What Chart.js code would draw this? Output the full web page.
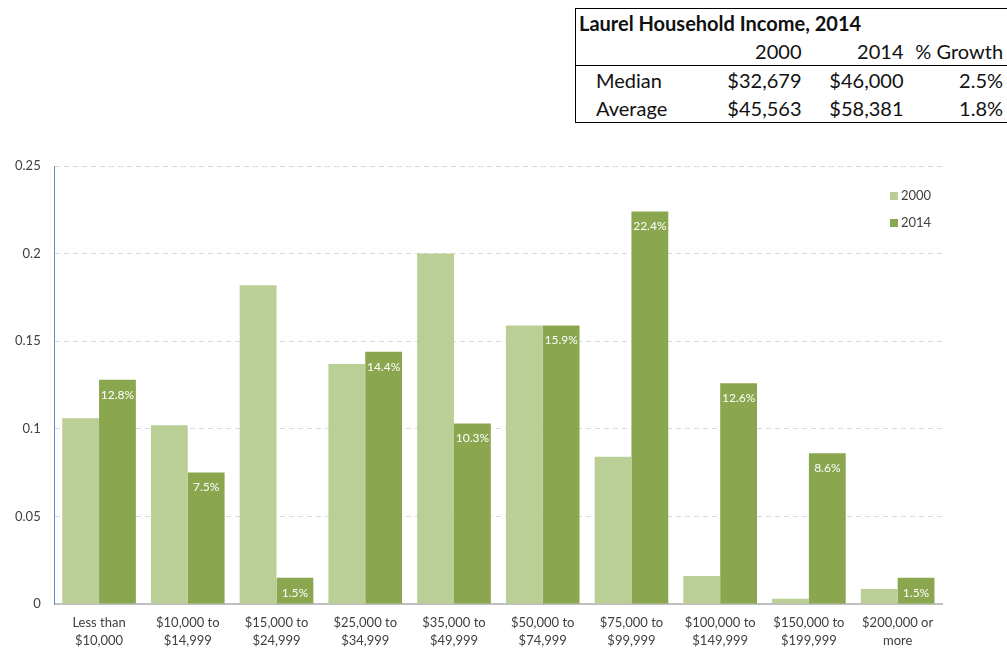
<!DOCTYPE html>
<html>
<head>
<meta charset="utf-8">
<script src="https://cdn.jsdelivr.net/npm/chart.js@4"></script>
<style>
    html, body { margin: 0; padding: 0; background: #fff; }
    body { width: 1007px; height: 649px; position: relative; overflow: hidden; font-family: Lato, "Open Sans", sans-serif; }
    #grafico { position: absolute; left: 0; top: 0; }
    .tabela-renda {
        position: absolute; left: 575px; top: 8px; width: 442px;
        table-layout: fixed; border-collapse: collapse; border: 1.5px solid #000; color: #111;
        font-size: 20px;
    }
    .tabela-renda td { padding: 0 4px 0 0; height: 28px; text-align: right; white-space: nowrap; overflow: visible; }
    .tabela-renda .titulo td { text-align: left; font-weight: bold; padding-left: 3px; }
    .tabela-renda .cabecalho td { border-bottom: 1.5px solid #000; }
    .tabela-renda td.rotulo { text-align: left; padding-left: 20px; }
    .tabela-renda td.ultima { padding-right: 14px; }
</style>
</head>
<body>
<table class="tabela-renda">
    <colgroup><col style="width:122px"><col style="width:108px"><col style="width:102px"><col style="width:110px"></colgroup>
    <tr class="titulo"><td colspan="4">Laurel Household Income, 2014</td></tr>
    <tr class="cabecalho"><td></td><td>2000</td><td>2014</td><td class="ultima">% Growth</td></tr>
    <tr><td class="rotulo">Median</td><td>$32,679</td><td>$46,000</td><td class="ultima">2.5%</td></tr>
    <tr><td class="rotulo">Average</td><td>$45,563</td><td>$58,381</td><td class="ultima">1.8%</td></tr>
</table>
<canvas id="grafico" width="1007" height="649"></canvas>
<script>
const faixas = [
    ["Less than", "$10,000"],
    ["$10,000 to", "$14,999"],
    ["$15,000 to", "$24,999"],
    ["$25,000 to", "$34,999"],
    ["$35,000 to", "$49,999"],
    ["$50,000 to", "$74,999"],
    ["$75,000 to", "$99,999"],
    ["$100,000 to", "$149,999"],
    ["$150,000 to", "$199,999"],
    ["$200,000 or", "more"]
];
const valores2000 = [0.106, 0.102, 0.182, 0.137, 0.200, 0.159, 0.084, 0.016, 0.003, 0.0085];
const valores2014 = [0.128, 0.075, 0.015, 0.144, 0.103, 0.159, 0.224, 0.126, 0.086, 0.015];
const ticksY = [0, 0.05, 0.1, 0.15, 0.2, 0.25];

const corClara = "#b9cf96";
const corEscura = "#8aa64f";
const corTexto = "#404040";
const fonte = "Lato, 'Open Sans', sans-serif";

// rotulos brancos dentro do topo das barras de 2014
const rotulosBarras = {
    id: "rotulosBarras",
    afterDatasetsDraw(chart) {
        const ctx = chart.ctx;
        const meta = chart.getDatasetMeta(1);
        ctx.save();
        ctx.fillStyle = "#ffffff";
        ctx.font = "12px " + fonte;
        ctx.textAlign = "center";
        ctx.textBaseline = "middle";
        meta.data.forEach((barra, i) => {
            const texto = (valores2014[i] * 100).toFixed(1) + "%";
            ctx.fillText(texto, barra.x, barra.y + 15);
        });
        ctx.restore();
    }
};

// legenda desenhada no canto superior direito da area do grafico
const legendaLateral = {
    id: "legendaLateral",
    afterDraw(chart) {
        const ctx = chart.ctx;
        const area = chart.chartArea;
        ctx.save();
        ctx.font = "13px " + fonte;
        ctx.textBaseline = "middle";
        chart.data.datasets.forEach((ds, i) => {
            const x = area.right - 52;
            const y = area.top + 30 + i * 27;
            ctx.fillStyle = ds.backgroundColor;
            ctx.fillRect(x, y - 4, 8, 8);
            ctx.fillStyle = corTexto;
            ctx.fillText(ds.label, x + 11, y);
        });
        ctx.restore();
    }
};

new Chart(document.getElementById("grafico"), {
    type: "bar",
    data: {
        labels: faixas,
        datasets: [
            { label: "2000", data: valores2000, backgroundColor: corClara },
            { label: "2014", data: valores2014, backgroundColor: corEscura }
        ]
    },
    options: {
        responsive: false,
        animation: false,
        layout: { padding: { top: 166, right: 65, left: 1, bottom: 0 } },
        datasets: { bar: { categoryPercentage: 0.83, barPercentage: 1.0 } },
        plugins: {
            legend: { display: false },
            tooltip: { enabled: false }
        },
        scales: {
            x: {
                afterFit(eixo) {
                    eixo.height = 45;
                },
                grid: { display: false, drawTicks: false },
                border: { color: "#bfbfbf", width: 2 },
                ticks: {
                    color: corTexto,
                    font: { size: 13, family: fonte, lineHeight: 1.45 },
                    maxRotation: 0,
                    autoSkip: false,
                    padding: 9
                }
            },
            y: {
                min: 0,
                max: 0.25,
                afterBuildTicks(eixo) {
                    eixo.ticks = ticksY.map(v => ({ value: v }));
                },
                grid: { color: "#d9d9d9", drawTicks: false },
                border: { color: "#5b8bd0", width: 1, dash: [5, 4] },
                ticks: {
                    color: corTexto,
                    font: { size: 13, family: fonte },
                    padding: 14,
                    callback: v => String(v)
                }
            }
        }
    },
    plugins: [rotulosBarras, legendaLateral]
});
</script>
</body>
</html>
